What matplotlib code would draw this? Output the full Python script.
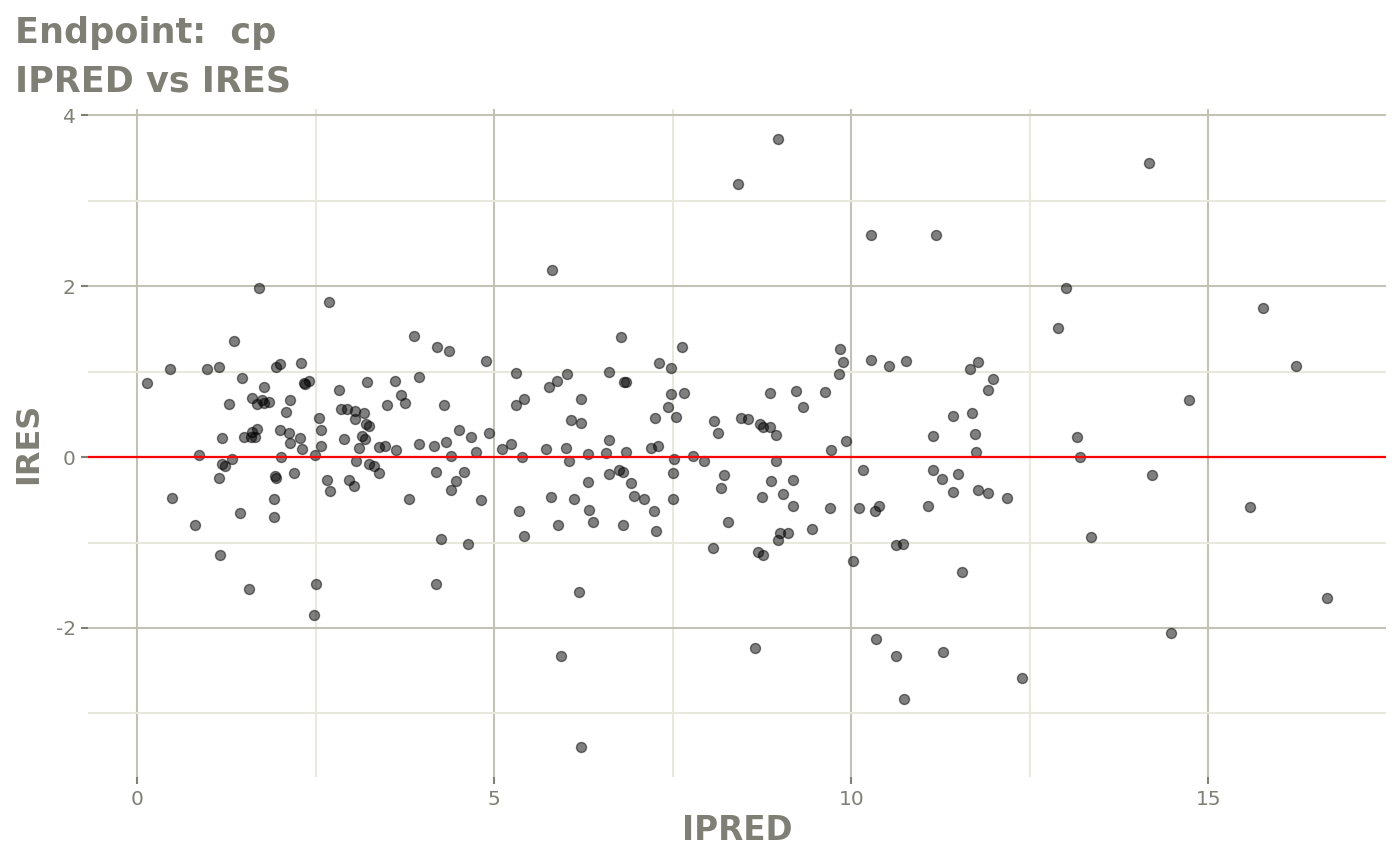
import numpy as np
import matplotlib
matplotlib.use('Agg')
import matplotlib.pyplot as plt
from matplotlib.ticker import MultipleLocator

# IPRED / IRES pairs
ipred = [
    0.14, 0.46, 0.49, 0.81, 0.87, 0.98, 1.15, 1.15, 1.16, 1.19, 1.19, 1.23, 1.29, 1.33, 1.35,
    1.44, 1.47, 1.49, 1.56, 1.60, 1.61, 1.61, 1.65, 1.68, 1.68, 1.71, 1.75, 1.78, 1.78, 1.85,
    1.91, 1.91, 1.93, 1.95, 1.95, 2.00, 2.00, 2.02, 2.09, 2.13, 2.14, 2.14, 2.20, 2.28, 2.30,
    2.31, 2.33, 2.35, 2.41, 2.47, 2.49, 2.51, 2.54, 2.58, 2.58, 2.66, 2.68, 2.70, 2.82, 2.85,
    2.89, 2.94, 2.97, 3.03, 3.05, 3.05, 3.07, 3.10, 3.15, 3.18, 3.19, 3.21, 3.22, 3.24, 3.24,
    3.32, 3.38, 3.39, 3.47, 3.50, 3.61, 3.63, 3.69, 3.75, 3.80, 3.87, 3.95, 3.95, 4.16, 4.19,
    4.19, 4.20, 4.26, 4.29, 4.33, 4.37, 4.40, 4.40, 4.47, 4.50, 4.58, 4.63, 4.67, 4.75, 4.82,
    4.88, 4.93,
    5.11, 5.24, 5.30, 5.31, 5.34, 5.39, 5.41, 5.42, 5.72, 5.77, 5.79, 5.81, 5.88, 5.89, 5.94,
    6.01, 6.02, 6.05, 6.08, 6.11, 6.19, 6.21, 6.21, 6.22, 6.31, 6.31, 6.33, 6.38, 6.57, 6.60,
    6.60, 6.61, 6.75, 6.78, 6.80, 6.80, 6.82, 6.84, 6.85, 6.91, 6.96, 7.10, 7.20, 7.23, 7.25,
    7.27, 7.29, 7.31, 7.43, 7.47, 7.47, 7.50, 7.50, 7.52, 7.55, 7.63, 7.65, 7.78, 7.93, 8.06,
    8.08, 8.13, 8.17, 8.21, 8.27, 8.41, 8.45, 8.55, 8.65, 8.69, 8.72, 8.75, 8.76, 8.76, 8.86,
    8.86, 8.88, 8.94, 8.95, 8.97, 8.97, 9.00, 9.04, 9.11, 9.18, 9.18, 9.23, 9.32, 9.45, 9.63,
    9.70, 9.72, 9.82, 9.84, 9.88, 9.92, 10.02,
    10.10, 10.16, 10.27, 10.28, 10.33, 10.34, 10.38, 10.52, 10.63, 10.63, 10.72, 10.73, 10.77,
    11.07, 11.14, 11.15, 11.18, 11.27, 11.28, 11.42, 11.42, 11.49, 11.55, 11.66, 11.69, 11.73,
    11.74, 11.78, 11.78, 11.92, 11.92, 11.98, 12.18, 12.39, 12.89, 13.00, 13.16, 13.20, 13.35,
    14.17, 14.21, 14.47, 14.73, 15.58, 15.76, 16.23, 16.66,
]
ires = [
    0.87, 1.03, -0.48, -0.80, 0.02, 1.03, 1.06, -0.25, -1.15, 0.22, -0.08, -0.11, 0.62, -0.02, 1.36,
    -0.65, 0.93, 0.23, -1.54, 0.23, 0.69, 0.29, 0.23, 0.33, 0.62, 1.98, 0.67, 0.82, 0.63, 0.65,
    -0.49, -0.70, -0.22, -0.25, 1.06, 1.09, 0.32, 0.00, 0.53, 0.28, 0.67, 0.16, -0.19, 0.22, 1.10,
    0.09, 0.87, 0.86, 0.89, -1.85, 0.02, -1.49, 0.46, 0.32, 0.13, -0.27, 1.82, -0.40, 0.79, 0.56,
    0.21, 0.56, -0.27, -0.34, 0.45, 0.54, -0.05, 0.11, 0.25, 0.52, 0.21, 0.39, 0.88, 0.36, -0.08,
    -0.11, 0.12, -0.19, 0.13, 0.61, 0.89, 0.08, 0.73, 0.63, -0.49, 1.42, 0.94, 0.15, 0.13, -1.49,
    -0.18, 1.29, -0.96, 0.61, 0.18, 1.24, 0.01, -0.39, -0.28, 0.32, -0.18, -1.02, 0.23, 0.06, -0.50,
    1.13, 0.28,
    0.09, 0.15, 0.61, 0.99, -0.63, 0.00, -0.92, 0.68, 0.09, 0.82, -0.47, 2.19, 0.89, -0.79, -2.33,
    0.11, 0.97, -0.05, 0.43, -0.49, -1.58, -3.39, 0.40, 0.68, 0.04, -0.29, -0.62, -0.76, 0.05, 1.00,
    0.20, -0.20, -0.15, 1.41, -0.80, -0.18, 0.88, 0.88, 0.06, -0.30, -0.46, -0.49, 0.11, -0.63, 0.46,
    -0.87, 0.13, 1.10, 0.59, 1.04, 0.74, -0.19, -0.49, -0.02, 0.47, 1.29, 0.75, 0.01, -0.05, -1.06,
    0.42, 0.28, -0.36, -0.21, -0.76, 3.20, 0.46, 0.45, -2.24, -1.11, 0.39, -0.47, 0.35, -1.15, 0.75,
    0.35, -0.28, 0.26, -0.05, 3.72, -0.97, -0.89, -0.43, -0.89, -0.27, -0.57, 0.77, 0.59, -0.84, 0.76,
    -0.60, 0.08, 0.97, 1.26, 1.11, 0.19, -1.22,
    -0.60, -0.15, 1.14, 2.60, -0.63, -2.13, -0.57, 1.07, -1.03, -2.33, -1.02, -2.83, 1.13,
    -0.57, -0.15, 0.25, 2.60, -0.26, -2.28, 0.48, -0.41, -0.20, -1.35, 1.03, 0.52, 0.27,
    0.06, 1.11, -0.38, 0.79, -0.42, 0.91, -0.48, -2.59, 1.51, 1.98, 0.23, 0.00, -0.94,
    3.44, -0.21, -2.06, 0.67, -0.59, 1.74, 1.07, -1.65,
]

title_col = '#7f7f75'
tick_col = '#808077'
major_col = '#c2c2b6'
minor_col = '#e8e8dc'

fig = plt.figure(figsize=(14, 8.65), dpi=100)
ax = fig.add_axes([0.063, 0.1017, 0.927, 0.7723])

ax.scatter(ipred, ires, s=52, color='black', alpha=0.5, edgecolors='black',
           linewidths=1.0, zorder=3)
ax.axhline(0, color='red', linewidth=1.6, zorder=4)

# ggplot-style 5% expansion
xr = max(ipred) - min(ipred)
yr = max(ires) - min(ires)
ax.set_xlim(min(ipred) - 0.05 * xr, max(ipred) + 0.05 * xr)
ax.set_ylim(min(ires) - 0.05 * yr, max(ires) + 0.05 * yr)

ax.xaxis.set_major_locator(MultipleLocator(5))
ax.xaxis.set_minor_locator(MultipleLocator(2.5))
ax.yaxis.set_major_locator(MultipleLocator(2))
ax.yaxis.set_minor_locator(MultipleLocator(1))
ax.grid(which='major', color=major_col, linewidth=1.5, zorder=0)
ax.grid(which='minor', color=minor_col, linewidth=1.5, zorder=0)
ax.set_axisbelow(True)

for s in ax.spines.values():
    s.set_visible(False)

ax.tick_params(which='major', length=5, width=1.5, color=tick_col,
               labelcolor=tick_col, labelsize=14.5, pad=4)
ax.tick_params(which='minor', length=0)
ax.set_yticks([-2, 0, 2, 4])
ax.set_yticklabels(['-2', '0', '2', '4'])

ax.set_xlabel('IPRED', fontsize=23.5, fontweight='bold', color=title_col, labelpad=4)
ax.set_ylabel('IRES', fontsize=23, fontweight='bold', color=title_col, labelpad=8)

fig.text(0.011, 0.982, 'Endpoint:  cp\nIPRED vs IRES', ha='left', va='top',
         fontsize=25.2, fontweight='bold', color=title_col, linespacing=1.55)

fig.savefig('out.png', dpi=100)
